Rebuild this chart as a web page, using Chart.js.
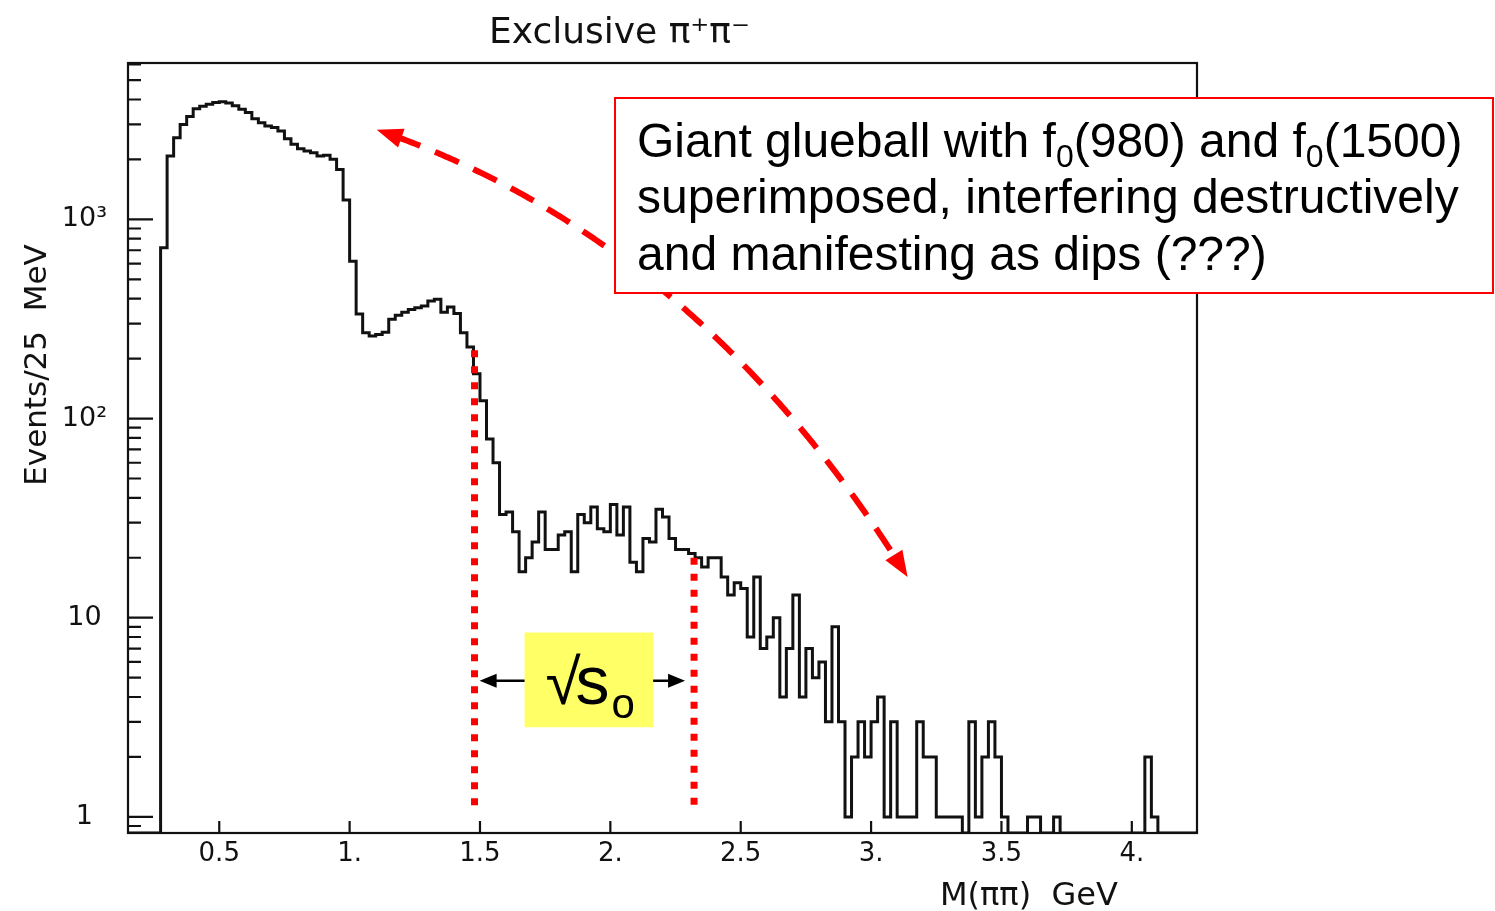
<!DOCTYPE html>
<html>
<head>
<meta charset="utf-8">
<title>Exclusive pi+ pi- mass spectrum</title>
<script src="https://cdn.jsdelivr.net/npm/chart.js@4.4.0/dist/chart.umd.min.js"></script>
<style>
  html, body { margin: 0; padding: 0; background: #fff; }
  canvas { display: block; }
</style>
</head>
<body>
<canvas id="massChart" width="1495" height="911"></canvas>
<script>
'use strict';

// 25 MeV bins, first filled bin starts at 0.275 GeV
const binStart = 0.275;
const binWidth = 0.025;
const counts = [
  721, 2080, 2574, 3000, 3282, 3596, 3700, 3790, 3860, 3900,
  3840, 3720, 3572, 3440, 3206, 3060, 2943, 2890, 2780, 2544,
  2382, 2265, 2203, 2163, 2080, 2098, 2002, 1783, 1250, 617,
  335, 270, 260, 264, 271, 315, 330, 342, 353, 360,
  367, 389, 397, 342, 363, 337, 270, 229, 168, 123,
  79, 60, 33, 34, 27, 17, 20, 24, 34, 22,
  22, 26, 27, 17, 33, 30, 36, 28, 27, 37,
  26, 36, 19, 17, 25, 24, 35, 32, 25, 22,
  22, 21, 20, 18, 20, 20, 16, 13, 15, 14,
  8, 16, 7, 8, 10, 4, 7, 13, 4, 7,
  5, 6, 3, 9, 3, 1, 2, 3, 2, 3,
  4, 1, 3, 1, 1, 1, 3, 2, 2, 1,
  1, 1, 1, 0, 3, 1, 2, 3, 2, 1,
  0, 0, 0, 1, 1, 0, 0, 1, 0, 0,
  0, 0, 0, 0, 0, 0, 0, 0, 0, 0,
  0, 2, 1
];

const xTickValues = [0.5, 1, 1.5, 2, 2.5, 3, 3.5, 4];
const xTickLabels = ['0.5', '1.', '1.5', '2.', '2.5', '3.', '3.5', '4.'];
const yDecades = [1, 10, 100, 1000];
const yDecadeLabels = ['1', '10', '10\u00b2', '10\u00b3'];

const xMin = 0.15;
const xMax = 4.25;
const yMin = 0.83;
const yMax = 6100;

const RED = '#ff0000';
const INK = '#111111';
const FONT = '"DejaVu Sans", sans-serif';
const SANS = '"Liberation Sans", Arial, sans-serif';

// step outline of the histogram; empty bins sit on the lower frame
let points = [{ x: xMin, y: yMin }];
for ( let i = 0; i < counts.length; i++ ) {
  points.push({ x: binStart + i * binWidth, y: counts[i] > 0 ? counts[i] : yMin });
}
points.push({ x: binStart + counts.length * binWidth, y: yMin });
points.push({ x: xMax, y: yMin });

// minor + major positions for the log axis
let yTickList = [];
for ( let d = 0.1; d <= 1000; d *= 10 ) {
  for ( let m = 1; m <= 9; m++ ) {
    let v = Math.round( m * d * 1000 ) / 1000;
    if ( v >= yMin && v <= yMax ) {
      yTickList.push({ value: v, major: m === 1 });
    }
  }
}

function arrowHead ( ctx, tx, ty, ang, len, half ) {
  let bx = tx - len * Math.cos( ang );
  let by = ty - len * Math.sin( ang );
  ctx.beginPath();
  ctx.moveTo( tx, ty );
  ctx.lineTo( bx + half * Math.sin( ang ), by - half * Math.cos( ang ) );
  ctx.lineTo( bx - half * Math.sin( ang ), by + half * Math.cos( ang ) );
  ctx.closePath();
  ctx.fill();
}

// draws text pieces in a row, [text, isSubscript]
function richText ( ctx, parts, x, y, size ) {
  for ( let p of parts ) {
    let s = p[1] ? Math.round( size * 0.66 ) : size;
    ctx.font = s + 'px ' + SANS;
    ctx.fillText( p[0], x, p[1] ? y + size * 0.2 : y );
    x += ctx.measureText( p[0] ).width;
  }
}

const framePlugin = {
  id: 'frame',
  afterDatasetsDraw ( chart ) {
    const { ctx, chartArea: a, scales } = chart;
    ctx.save();
    ctx.strokeStyle = INK;
    ctx.lineWidth = 2.2;
    ctx.strokeRect( a.left, a.top, a.right - a.left, a.bottom - a.top );
    ctx.beginPath();
    xTickValues.forEach( v => {
      let px = scales.x.getPixelForValue( v );
      ctx.moveTo( px, a.bottom );
      ctx.lineTo( px, a.bottom - 12 );
    });
    yTickList.forEach( t => {
      let py = scales.y.getPixelForValue( t.value );
      ctx.moveTo( a.left, py );
      ctx.lineTo( a.left + ( t.major ? 25 : 13 ), py );
    });
    ctx.stroke();

    // titles
    ctx.fillStyle = INK;
    ctx.textBaseline = 'alphabetic';
    ctx.font = '36px ' + FONT;
    ctx.fillText( 'Exclusive \u03c0\u207a\u03c0\u207b', 489, 43 );
    ctx.font = '32px ' + FONT;
    ctx.fillText( 'M(\u03c0\u03c0)  GeV', 940, 905 );
    ctx.save();
    ctx.translate( 46, 365 );
    ctx.rotate( -Math.PI / 2 );
    ctx.textAlign = 'center';
    ctx.font = '31px ' + FONT;
    ctx.fillText( 'Events/25  MeV', 0, 0 );
    ctx.restore();
    ctx.restore();
  }
};

const notesPlugin = {
  id: 'notes',
  afterDraw ( chart ) {
    const { ctx, scales } = chart;
    const px = g => scales.x.getPixelForValue( g );
    const py = v => scales.y.getPixelForValue( v );
    ctx.save();

    // red dotted markers
    ctx.strokeStyle = RED;
    ctx.lineWidth = 7;
    ctx.setLineDash( [7, 9] );
    ctx.beginPath();
    ctx.moveTo( px( 1.479 ), py( 220 ) );
    ctx.lineTo( px( 1.479 ), py( 1.1 ) );
    ctx.moveTo( px( 2.321 ), py( 20 ) );
    ctx.lineTo( px( 2.321 ), py( 1.1 ) );
    ctx.stroke();

    // curved dashed double arrow
    let p0 = { x: px( 1.104 ), y: py( 2820 ) };
    let c = { x: px( 2.336 ), y: py( 792 ) };
    let p2 = { x: px( 3.14 ), y: py( 16 ) };
    ctx.lineWidth = 6;
    ctx.setLineDash( [26, 16] );
    ctx.beginPath();
    let started = false;
    for ( let i = 0; i <= 300; i++ ) {
      let t = i / 300;
      let bx = ( 1 - t ) * ( 1 - t ) * p0.x + 2 * ( 1 - t ) * t * c.x + t * t * p2.x;
      let by = ( 1 - t ) * ( 1 - t ) * p0.y + 2 * ( 1 - t ) * t * c.y + t * t * p2.y;
      if ( Math.hypot( bx - p0.x, by - p0.y ) < 20 || Math.hypot( bx - p2.x, by - p2.y ) < 20 ) continue;
      if ( !started ) { ctx.moveTo( bx, by ); started = true; } else { ctx.lineTo( bx, by ); }
    }
    ctx.stroke();
    ctx.setLineDash( [] );
    ctx.fillStyle = RED;
    arrowHead( ctx, p0.x, p0.y, Math.atan2( p0.y - c.y, p0.x - c.x ), 26, 10 );
    arrowHead( ctx, p2.x, p2.y, Math.atan2( p2.y - c.y, p2.x - c.x ), 26, 10 );

    // text box
    ctx.fillStyle = '#ffffff';
    ctx.fillRect( 615, 98, 878, 195 );
    ctx.strokeStyle = RED;
    ctx.lineWidth = 2;
    ctx.strokeRect( 615, 98, 878, 195 );
    ctx.fillStyle = '#000000';
    ctx.textBaseline = 'alphabetic';
    richText( ctx, [['Giant glueball with f', 0], ['0', 1], ['(980) and f', 0], ['0', 1], ['(1500)', 0]], 637, 157, 48 );
    richText( ctx, [['superimposed, interfering destructively', 0]], 637, 213, 48 );
    richText( ctx, [['and manifesting as dips (???)', 0]], 637, 270, 48 );

    // sqrt(s0) label with arrows
    let bl = px( 1.671 ), br = px( 2.164 ), bt = py( 8.43 ), bb = py( 2.82 );
    ctx.fillStyle = '#ffff66';
    ctx.fillRect( bl, bt, br - bl, bb - bt );
    ctx.fillStyle = '#000000';
    ctx.font = '64px ' + SANS;
    ctx.fillText( '\u221a', bl + 21, bt + 72 );
    ctx.font = '68px ' + SANS;
    ctx.fillText( 's', bl + 51, bt + 72 );
    ctx.font = '42px ' + SANS;
    ctx.fillText( 'o', bl + 87, bt + 86 );

    let ay = py( 4.82 );
    ctx.strokeStyle = '#000000';
    ctx.lineWidth = 2.5;
    ctx.beginPath();
    ctx.moveTo( bl, ay );
    ctx.lineTo( px( 1.4985 ) + 12, ay );
    ctx.moveTo( br, ay );
    ctx.lineTo( px( 2.2865 ) - 12, ay );
    ctx.stroke();
    arrowHead( ctx, px( 1.4985 ), ay, Math.PI, 17, 7 );
    arrowHead( ctx, px( 2.2865 ), ay, 0, 17, 7 );
    ctx.restore();
  }
};

const ctx = document.getElementById( 'massChart' ).getContext( '2d' );
const massChart = new Chart( ctx, {
  type: 'line',
  data: {
    datasets: [{
      label: 'Exclusive pi+ pi-',
      data: points,
      stepped: 'before',
      borderColor: INK,
      borderWidth: 3,
      pointRadius: 0,
      fill: false
    }]
  },
  options: {
    responsive: false,
    animation: false,
    layout: { padding: { top: 63, right: 298, bottom: 0, left: 0 } },
    plugins: {
      legend: { display: false },
      tooltip: { enabled: false }
    },
    scales: {
      x: {
        type: 'linear',
        min: xMin,
        max: xMax,
        grid: { display: false },
        border: { display: false },
        afterBuildTicks: scale => {
          scale.ticks = xTickValues.map( v => ({ value: v }) );
        },
        afterFit: scale => { scale.height = 78; },
        ticks: {
          padding: -2,
          maxRotation: 0,
          autoSkip: false,
          color: INK,
          font: { family: FONT, size: 26 },
          callback: value => {
            let i = xTickValues.indexOf( value );
            return i >= 0 ? xTickLabels[i] : '';
          }
        }
      },
      y: {
        type: 'logarithmic',
        min: yMin,
        max: yMax,
        grid: { display: false },
        border: { display: false },
        afterBuildTicks: scale => {
          scale.ticks = yTickList.map( t => ({ value: t.value, major: t.major }) );
        },
        afterFit: scale => { scale.width = 128; },
        ticks: {
          padding: 13,
          crossAlign: 'center',
          autoSkip: false,
          color: INK,
          font: { family: FONT, size: 27 },
          callback: value => {
            let i = yDecades.indexOf( value );
            return i >= 0 ? yDecadeLabels[i] : '';
          }
        }
      }
    }
  },
  plugins: [framePlugin, notesPlugin]
} );
</script>
</body>
</html>
